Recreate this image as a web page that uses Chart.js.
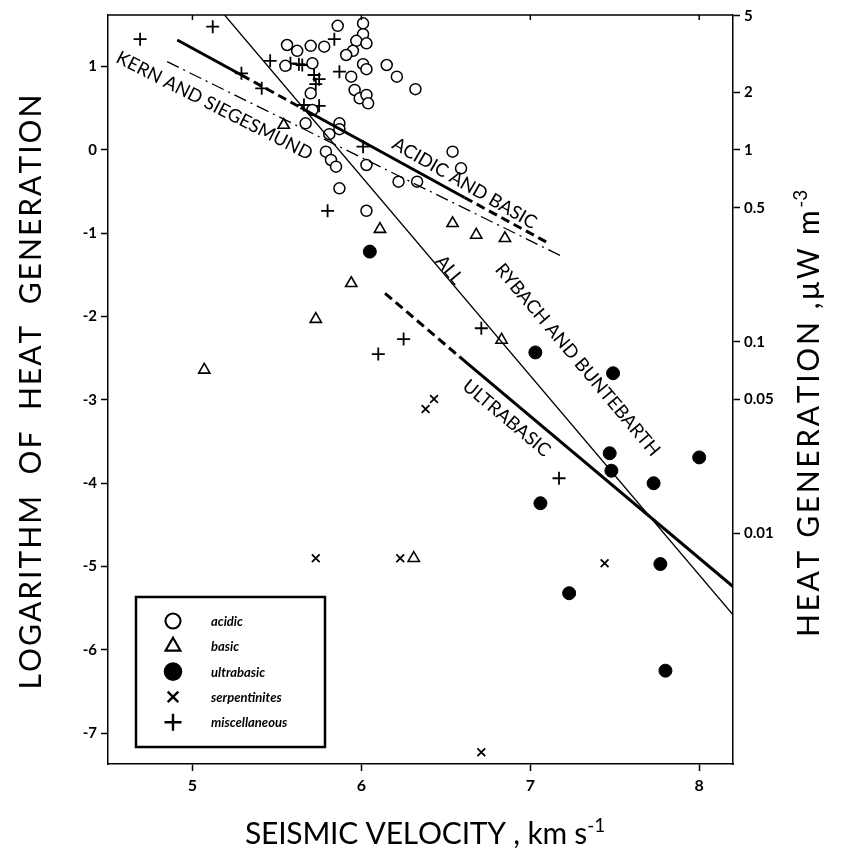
<!DOCTYPE html>
<html>
<head>
<meta charset="utf-8">
<script src="https://cdn.jsdelivr.net/npm/chart.js@4.4.1/dist/chart.umd.min.js"></script>
<style>
  body { margin: 0; background: #fff; }
  #wrap { width: 843px; height: 852px; }
</style>
</head>
<body>
<div id="wrap"><canvas id="heatChart" width="843" height="852"></canvas></div>
<script>
// seismic velocity (km/s) against ln(heat generation)
const acidic = [
  [5.86, 1.49], [6.01, 1.52], [6.01, 1.39], [5.97, 1.31], [6.03, 1.28], [5.95, 1.19], [5.91, 1.14],
  [5.56, 1.26], [5.62, 1.19], [5.70, 1.25], [5.78, 1.24],
  [5.55, 1.01], [5.71, 1.04], [6.01, 1.03], [6.03, 0.97], [6.15, 1.02], [6.21, 0.88], [6.32, 0.73],
  [5.94, 0.88], [5.96, 0.72], [5.99, 0.62], [6.03, 0.66], [6.04, 0.56],
  [5.70, 0.68], [5.71, 0.48], [5.67, 0.32], [5.87, 0.32], [5.87, 0.25], [5.81, 0.19],
  [5.79, -0.02], [5.82, -0.12], [5.85, -0.20], [5.87, -0.46], [6.03, -0.18], [6.22, -0.38],
  [6.33, -0.38], [6.54, -0.02], [6.59, -0.22], [6.03, -0.73]
];
const basic = [
  [5.54, 0.30], [6.11, -0.95], [6.54, -0.88], [6.68, -1.02], [6.85, -1.06], [5.94, -1.60],
  [5.73, -2.03], [5.07, -2.64], [6.83, -2.28], [6.31, -4.90]
];
const ultrabasic = [
  [6.05, -1.22], [7.03, -2.43], [7.49, -2.68], [7.47, -3.64], [7.48, -3.85], [7.73, -4.00],
  [8.00, -3.69], [7.06, -4.24], [7.77, -4.97], [7.23, -5.32], [7.80, -6.25]
];
const serpentinites = [
  [6.71, -7.23], [5.73, -4.90], [6.23, -4.90], [7.44, -4.96], [6.43, -2.99], [6.38, -3.11]
];
const miscellaneous = [
  [4.69, 1.33], [5.12, 1.48], [5.29, 0.92], [5.41, 0.74], [5.46, 1.07], [5.58, 1.04], [5.63, 1.03],
  [5.65, 1.02], [5.72, 0.90], [5.75, 0.85], [5.73, 0.79], [5.84, 1.33], [5.87, 0.94], [5.66, 0.54],
  [5.75, 0.53], [6.01, 0.04], [5.80, -0.73], [6.25, -2.27], [6.10, -2.45], [6.71, -2.14], [7.17, -3.94]
];

// fitted lines
const allFit = [[5.19, 1.62], [8.2, -5.58]];
const acidicBasicFit = [[4.91, 1.32], [5.29, 0.90], [5.64, 0.51], [6.61, -0.57], [7.10, -1.11]];
const kernFit = [[4.85, 1.06], [7.19, -1.28]];
const ultrabasicFit = [[6.14, -1.72], [6.58, -2.48], [8.2, -5.24]];

const xTicks = [5, 6, 7, 8];
const yTicks = [1, 0, -1, -2, -3, -4, -5, -6, -7];
const heatTicks = [5, 2, 1, 0.5, 0.1, 0.05, 0.01];
const heatTickLabels = ["5", "2", "1", "0.5", "0.1", "0.05", "0.01"];

const FONT = "Lato";
const toXY = (arr) => arr.map((p) => ({ x: p[0], y: p[1] }));

const lineLabels = [
  { text: "KERN AND SIEGESMUND", at: [5.13, 0.53], angle: 27 },
  { text: "ACIDIC AND BASIC", at: [6.61, -0.40], angle: 30 },
  { text: "ALL", at: [6.52, -1.44], angle: 50 },
  { text: "RYBACH AND BUNTEBARTH", at: [7.28, -2.52], angle: 50 },
  { text: "ULTRABASIC", at: [6.86, -3.22], angle: 40 },
];

// axis titles: [text, superscript], centre, rotation, target length
const titles = [
  { parts: ["SEISMIC VELOCITY , km s", "-1"], cx: 425, cy: 833, rot: 0, len: 360 },
  { parts: ["LOGARITHM  OF  HEAT  GENERATION", ""], cx: 30, cy: 392, rot: -90, len: 595 },
  { parts: ["HEAT GENERATION ,\u03bcW m", "-3"], cx: 808, cy: 412, rot: -90, len: 450 },
];

function dashed(indices, pattern) {
  return { borderDash: (ctx) => (indices.includes(ctx.p0DataIndex) ? pattern : undefined) };
}

function drawTitle(ctx, t) {
  const size = 30, supSize = 19;
  const chars = [];
  t.parts[0].split("").forEach((c) => chars.push({ c, sup: false }));
  t.parts[1].split("").forEach((c) => chars.push({ c, sup: true }));
  let natural = 0;
  chars.forEach((ch) => {
    ctx.font = (ch.sup ? supSize : size) + "px " + FONT;
    ch.w = ctx.measureText(ch.c).width;
    natural += ch.w;
  });
  const gap = (t.len - natural) / (chars.length - 1);
  ctx.save();
  ctx.translate(t.cx, t.cy);
  ctx.rotate((t.rot * Math.PI) / 180);
  ctx.textAlign = "left";
  ctx.textBaseline = "alphabetic";
  ctx.fillStyle = "#000";
  let x = -t.len / 2;
  const base = size * 0.36;
  chars.forEach((ch) => {
    ctx.font = (ch.sup ? supSize : size) + "px " + FONT;
    ctx.fillText(ch.c, x, ch.sup ? base - 12 : base);
    x += ch.w + (ch.sup ? 0 : gap);
  });
  ctx.restore();
}

const extras = {
  id: "extras",
  afterDatasetsDraw(chart) {
    const { ctx, chartArea: a, scales } = chart;
    ctx.save();
    ctx.strokeStyle = "#000";
    ctx.lineWidth = 1.5;
    ctx.beginPath();
    ctx.moveTo(a.left, a.top);
    ctx.lineTo(a.right, a.top);
    xTicks.forEach((v) => {
      const px = scales.x.getPixelForValue(v);
      ctx.moveTo(px, a.top);
      ctx.lineTo(px, a.top + 5);
    });
    ctx.stroke();

    // labels along the lines
    ctx.fillStyle = "#000";
    ctx.font = "18.5px " + FONT;
    ctx.textAlign = "center";
    ctx.textBaseline = "middle";
    lineLabels.forEach((l) => {
      ctx.save();
      ctx.translate(scales.x.getPixelForValue(l.at[0]), scales.y.getPixelForValue(l.at[1]));
      ctx.rotate((l.angle * Math.PI) / 180);
      ctx.fillText(l.text, 0, 0);
      ctx.restore();
    });

    // legend box
    const bx = a.left + 28, by = a.bottom - 167, bw = 189, bh = 150;
    ctx.fillStyle = "#fff";
    ctx.fillRect(bx, by, bw, bh);
    ctx.lineWidth = 2.5;
    ctx.strokeRect(bx, by, bw, bh);
    ctx.font = "italic bold 13px " + FONT;
    ctx.textAlign = "left";
    chart.data.datasets.filter((d) => !d.showLine).forEach((d, i) => {
      const y = by + 24 + i * 25.3;
      ctx.fillStyle = d.backgroundColor;
      ctx.strokeStyle = d.borderColor;
      ctx.lineWidth = d.borderWidth + 0.6;
      Chart.helpers.drawPoint(ctx, { pointStyle: d.pointStyle, radius: d.pointRadius + 2, borderWidth: d.borderWidth + 0.6, rotation: 0 }, bx + 37, y);
      ctx.fillStyle = "#000";
      ctx.fillText(d.label, bx + 75, y + 1);
    });

    titles.forEach((t) => drawTitle(ctx, t));
    ctx.restore();
  },
};

const pointSet = (label, arr, style, radius, filled, width) => ({
  label: label,
  data: toXY(arr),
  pointStyle: style,
  pointRadius: radius,
  pointHoverRadius: radius,
  backgroundColor: filled ? "#000" : "#fff",
  borderColor: "#000",
  borderWidth: width,
  showLine: false,
});

const lineSet = (label, arr, width, segment) => ({
  label: label,
  data: toXY(arr),
  showLine: true,
  pointRadius: 0,
  borderColor: "#000",
  borderWidth: width,
  segment: segment,
});

new Chart(document.getElementById("heatChart"), {
  type: "scatter",
  data: {
    datasets: [
      lineSet("all", allFit, 1.3),
      lineSet("acidic and basic", acidicBasicFit, 3, dashed([1, 3], [9, 5])),
      lineSet("kern and siegesmund", kernFit, 1.3, { borderDash: () => [13, 5, 2, 5] }),
      lineSet("ultrabasic fit", ultrabasicFit, 3, dashed([0], [9, 5])),
      pointSet("acidic", acidic, "circle", 5.5, false, 1.5),
      pointSet("basic", basic, "triangle", 6.5, false, 1.6),
      pointSet("ultrabasic", ultrabasic, "circle", 6.5, true, 1),
      pointSet("serpentinites", serpentinites, "crossRot", 5.5, false, 1.8),
      pointSet("miscellaneous", miscellaneous, "cross", 6.5, false, 1.8),
    ],
  },
  options: {
    responsive: false,
    animation: false,
    layout: { padding: { top: 15 } },
    plugins: { legend: { display: false }, tooltip: { enabled: false } },
    scales: {
      x: {
        type: "linear",
        min: 4.5,
        max: 8.2,
        afterFit: (s) => { s.height = 88; },
        afterBuildTicks: (s) => { s.ticks = xTicks.map((v) => ({ value: v })); },
        grid: { drawOnChartArea: false, tickLength: 7, tickColor: "#000", tickWidth: 1.5 },
        border: { color: "#000", width: 1.5 },
        ticks: { color: "#000", font: { family: FONT, size: 16, weight: "bold" }, padding: 5 },
      },
      y: {
        type: "linear",
        position: "left",
        min: -7.37,
        max: 1.62,
        afterFit: (s) => { s.width = 108; },
        afterBuildTicks: (s) => { s.ticks = yTicks.map((v) => ({ value: v })); },
        grid: { drawOnChartArea: false, tickLength: 7, tickColor: "#000", tickWidth: 1.5 },
        border: { color: "#000", width: 1.5 },
        ticks: { color: "#000", font: { family: FONT, size: 15, weight: "bold" }, padding: 4 },
      },
      y2: {
        type: "linear",
        position: "right",
        min: -7.37,
        max: 1.62,
        afterFit: (s) => { s.width = 110; },
        afterBuildTicks: (s) => { s.ticks = heatTicks.map((v) => ({ value: Math.log(v) })); },
        grid: { drawOnChartArea: false, tickLength: 7, tickColor: "#000", tickWidth: 1.5 },
        border: { color: "#000", width: 1.5 },
        ticks: {
          color: "#000",
          font: { family: FONT, size: 15, weight: "bold" },
          padding: 4,
          callback: (value, index) => heatTickLabels[index],
        },
      },
    },
  },
  plugins: [extras],
});
</script>
</body>
</html>
